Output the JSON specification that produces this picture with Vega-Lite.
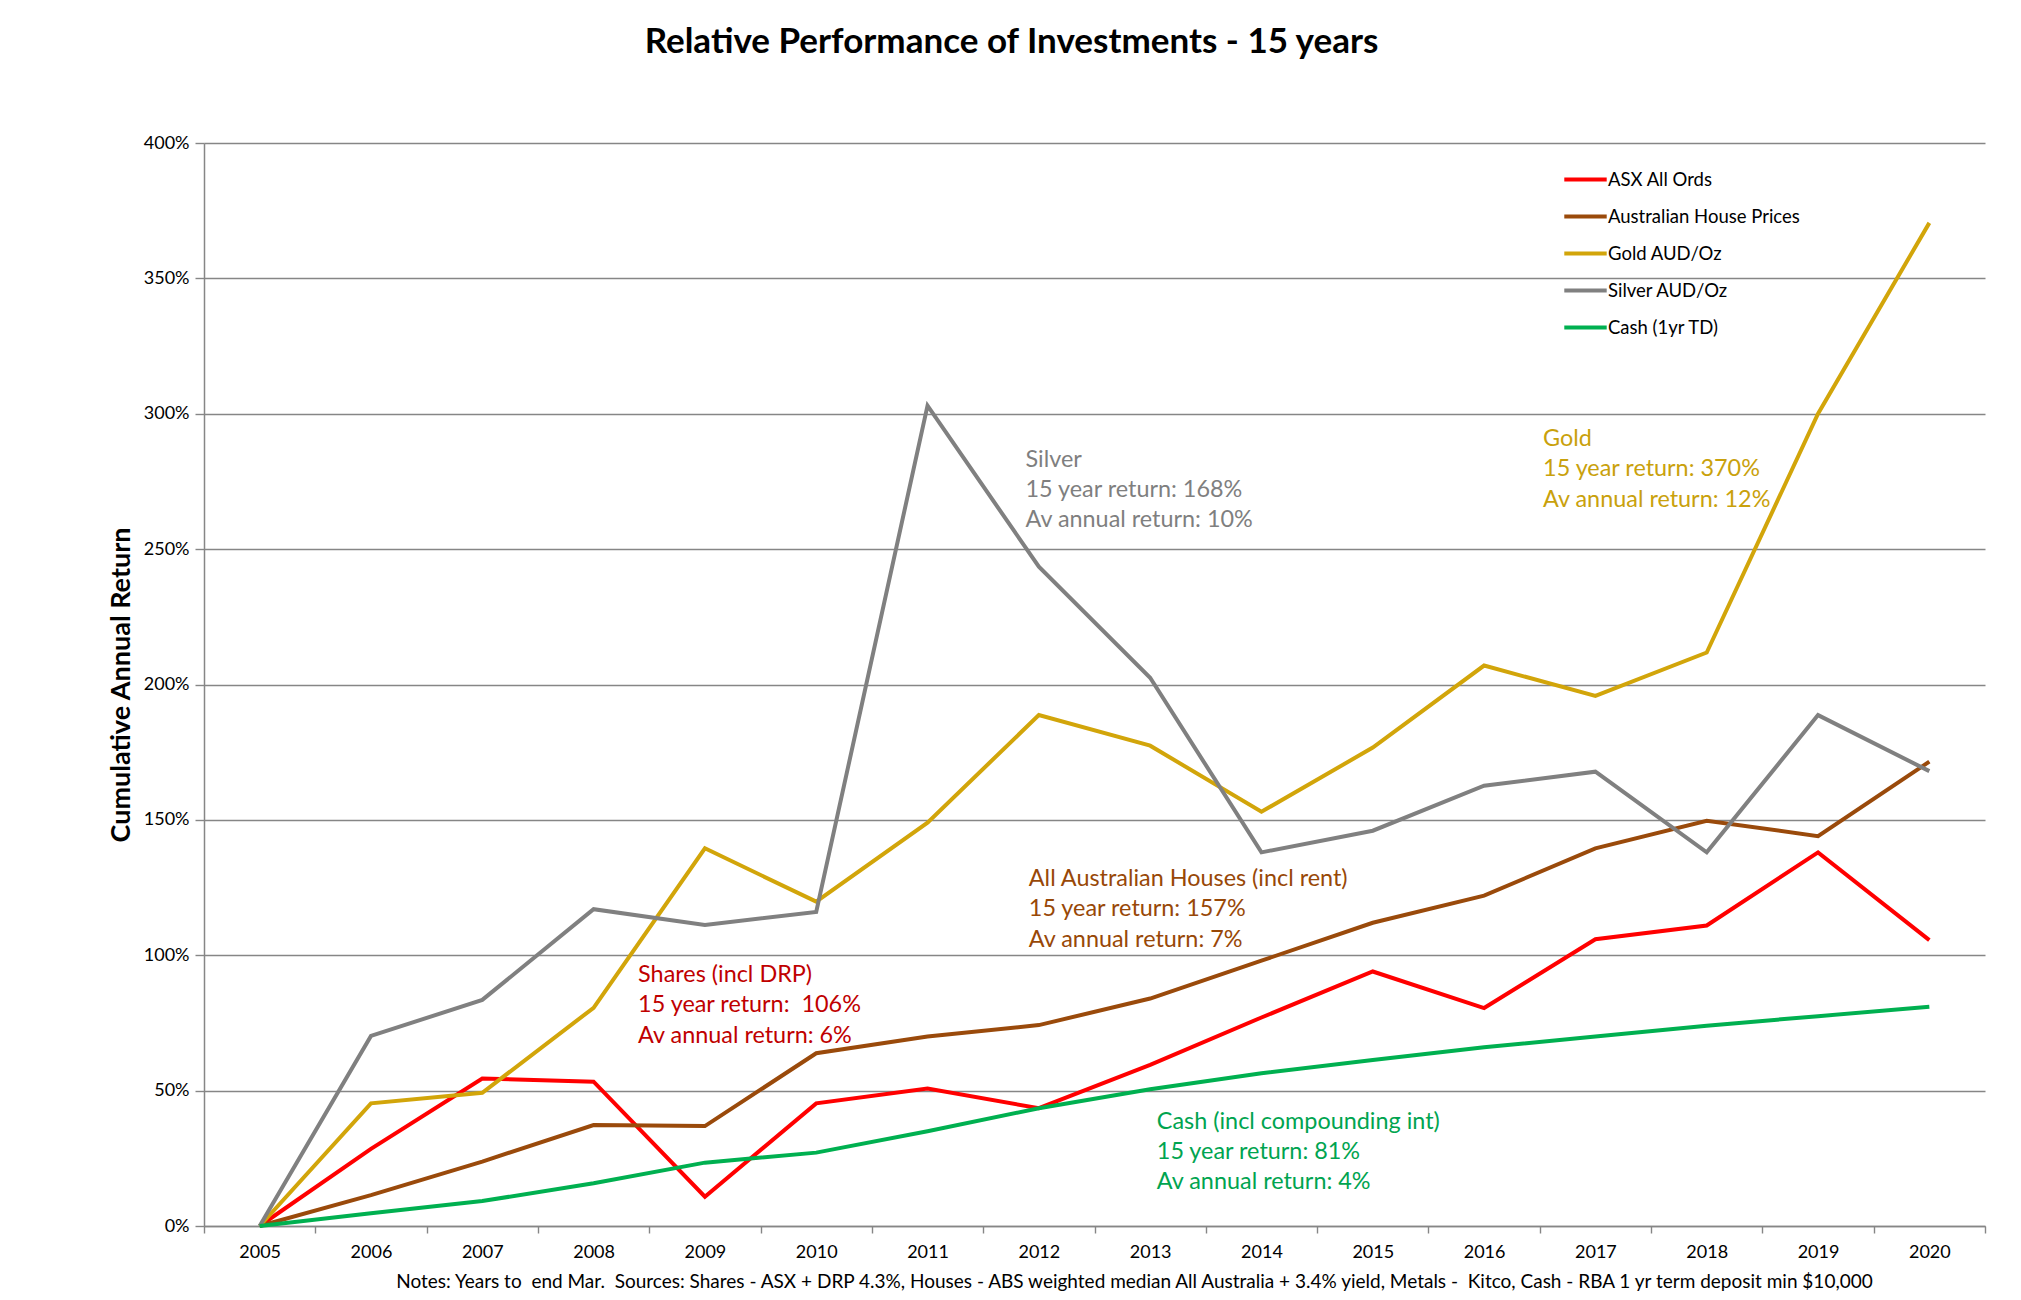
{
  "$schema": "https://vega.github.io/schema/vega-lite/v6.json",
  "description": "Relative performance of investments over 15 years, cumulative return by year",
  "autosize": "none",
  "width": 1781,
  "height": 1083,
  "padding": {"left": 204, "top": 143, "right": 36, "bottom": 74},
  "background": "white",
  "title": {
    "text": "Relative Performance of Investments - 15 years",
    "font": "Lato",
    "fontSize": 35,
    "fontWeight": "bold",
    "color": "#000000",
    "anchor": "middle",
    "dx": -83,
    "offset": 74
  },
  "datasets": {
    "returns": [
      {"year": 2005, "series": "ASX All Ords", "value": 0},
      {"year": 2006, "series": "ASX All Ords", "value": 28.5},
      {"year": 2007, "series": "ASX All Ords", "value": 54.5},
      {"year": 2008, "series": "ASX All Ords", "value": 53.3},
      {"year": 2009, "series": "ASX All Ords", "value": 10.8},
      {"year": 2010, "series": "ASX All Ords", "value": 45.3},
      {"year": 2011, "series": "ASX All Ords", "value": 50.8},
      {"year": 2012, "series": "ASX All Ords", "value": 43.5},
      {"year": 2013, "series": "ASX All Ords", "value": 59.5},
      {"year": 2014, "series": "ASX All Ords", "value": 77},
      {"year": 2015, "series": "ASX All Ords", "value": 94},
      {"year": 2016, "series": "ASX All Ords", "value": 80.5},
      {"year": 2017, "series": "ASX All Ords", "value": 105.9},
      {"year": 2018, "series": "ASX All Ords", "value": 111},
      {"year": 2019, "series": "ASX All Ords", "value": 138},
      {"year": 2020, "series": "ASX All Ords", "value": 105.6},
      {"year": 2005, "series": "Australian House Prices", "value": 0},
      {"year": 2006, "series": "Australian House Prices", "value": 11.4},
      {"year": 2007, "series": "Australian House Prices", "value": 23.8},
      {"year": 2008, "series": "Australian House Prices", "value": 37.3},
      {"year": 2009, "series": "Australian House Prices", "value": 36.9},
      {"year": 2010, "series": "Australian House Prices", "value": 63.8},
      {"year": 2011, "series": "Australian House Prices", "value": 70},
      {"year": 2012, "series": "Australian House Prices", "value": 74.2},
      {"year": 2013, "series": "Australian House Prices", "value": 84},
      {"year": 2014, "series": "Australian House Prices", "value": 98},
      {"year": 2015, "series": "Australian House Prices", "value": 112},
      {"year": 2016, "series": "Australian House Prices", "value": 122},
      {"year": 2017, "series": "Australian House Prices", "value": 139.5},
      {"year": 2018, "series": "Australian House Prices", "value": 149.7},
      {"year": 2019, "series": "Australian House Prices", "value": 144},
      {"year": 2020, "series": "Australian House Prices", "value": 171.5},
      {"year": 2005, "series": "Gold AUD/Oz", "value": 0},
      {"year": 2006, "series": "Gold AUD/Oz", "value": 45.3},
      {"year": 2007, "series": "Gold AUD/Oz", "value": 49.2},
      {"year": 2008, "series": "Gold AUD/Oz", "value": 80.6},
      {"year": 2009, "series": "Gold AUD/Oz", "value": 139.5},
      {"year": 2010, "series": "Gold AUD/Oz", "value": 119.8},
      {"year": 2011, "series": "Gold AUD/Oz", "value": 149},
      {"year": 2012, "series": "Gold AUD/Oz", "value": 188.7},
      {"year": 2013, "series": "Gold AUD/Oz", "value": 177.4},
      {"year": 2014, "series": "Gold AUD/Oz", "value": 153},
      {"year": 2015, "series": "Gold AUD/Oz", "value": 176.7},
      {"year": 2016, "series": "Gold AUD/Oz", "value": 207},
      {"year": 2017, "series": "Gold AUD/Oz", "value": 195.8},
      {"year": 2018, "series": "Gold AUD/Oz", "value": 211.8},
      {"year": 2019, "series": "Gold AUD/Oz", "value": 300},
      {"year": 2020, "series": "Gold AUD/Oz", "value": 370.5},
      {"year": 2005, "series": "Silver AUD/Oz", "value": 0},
      {"year": 2006, "series": "Silver AUD/Oz", "value": 70.2},
      {"year": 2007, "series": "Silver AUD/Oz", "value": 83.5},
      {"year": 2008, "series": "Silver AUD/Oz", "value": 117},
      {"year": 2009, "series": "Silver AUD/Oz", "value": 111.2},
      {"year": 2010, "series": "Silver AUD/Oz", "value": 116},
      {"year": 2011, "series": "Silver AUD/Oz", "value": 303},
      {"year": 2012, "series": "Silver AUD/Oz", "value": 243.5},
      {"year": 2013, "series": "Silver AUD/Oz", "value": 202.5},
      {"year": 2014, "series": "Silver AUD/Oz", "value": 138},
      {"year": 2015, "series": "Silver AUD/Oz", "value": 146},
      {"year": 2016, "series": "Silver AUD/Oz", "value": 162.6},
      {"year": 2017, "series": "Silver AUD/Oz", "value": 167.8},
      {"year": 2018, "series": "Silver AUD/Oz", "value": 138},
      {"year": 2019, "series": "Silver AUD/Oz", "value": 188.7},
      {"year": 2020, "series": "Silver AUD/Oz", "value": 168},
      {"year": 2005, "series": "Cash (1yr TD)", "value": 0},
      {"year": 2006, "series": "Cash (1yr TD)", "value": 4.7},
      {"year": 2007, "series": "Cash (1yr TD)", "value": 9.2},
      {"year": 2008, "series": "Cash (1yr TD)", "value": 15.8},
      {"year": 2009, "series": "Cash (1yr TD)", "value": 23.4},
      {"year": 2010, "series": "Cash (1yr TD)", "value": 27.1},
      {"year": 2011, "series": "Cash (1yr TD)", "value": 35},
      {"year": 2012, "series": "Cash (1yr TD)", "value": 43.5},
      {"year": 2013, "series": "Cash (1yr TD)", "value": 50.5},
      {"year": 2014, "series": "Cash (1yr TD)", "value": 56.4},
      {"year": 2015, "series": "Cash (1yr TD)", "value": 61.3},
      {"year": 2016, "series": "Cash (1yr TD)", "value": 66},
      {"year": 2017, "series": "Cash (1yr TD)", "value": 70},
      {"year": 2018, "series": "Cash (1yr TD)", "value": 74},
      {"year": 2019, "series": "Cash (1yr TD)", "value": 77.5},
      {"year": 2020, "series": "Cash (1yr TD)", "value": 81}
    ],
    "notes": [
      {"note": "Silver", "line": "Silver", "year": 2011.88, "value": 282.9},
      {"note": "Silver", "line": "15 year return: 168%", "year": 2011.88, "value": 271.8},
      {"note": "Silver", "line": "Av annual return: 10%", "year": 2011.88, "value": 260.8},
      {"note": "Gold", "line": "Gold", "year": 2016.53, "value": 290.7},
      {"note": "Gold", "line": "15 year return: 370%", "year": 2016.53, "value": 279.6},
      {"note": "Gold", "line": "Av annual return: 12%", "year": 2016.53, "value": 268.2},
      {"note": "Houses", "line": "All Australian Houses (incl rent)", "year": 2011.91, "value": 128.2},
      {"note": "Houses", "line": "15 year return: 157%", "year": 2011.91, "value": 117.2},
      {"note": "Houses", "line": "Av annual return: 7%", "year": 2011.91, "value": 105.7},
      {"note": "Shares", "line": "Shares (incl DRP)", "year": 2008.4, "value": 92.7},
      {"note": "Shares", "line": "15 year return:\u00a0 106%", "year": 2008.4, "value": 81.6},
      {"note": "Shares", "line": "Av annual return: 6%", "year": 2008.4, "value": 70.3},
      {"note": "Cash", "line": "Cash (incl compounding int)", "year": 2013.06, "value": 38.5},
      {"note": "Cash", "line": "15 year return: 81%", "year": 2013.06, "value": 27.4},
      {"note": "Cash", "line": "Av annual return: 4%", "year": 2013.06, "value": 16.1}
    ]
  },
  "layer": [
    {
      "data": {"name": "returns"},
      "mark": {"type": "line", "strokeWidth": 4, "strokeJoin": "miter"},
      "encoding": {
        "x": {
          "field": "year",
          "type": "quantitative",
          "scale": {"domain": [2004.5, 2020.5], "nice": false, "zero": false},
          "axis": {
            "orient": "bottom",
            "values": [2005, 2006, 2007, 2008, 2009, 2010, 2011, 2012, 2013, 2014, 2015, 2016, 2017, 2018, 2019, 2020],
            "format": "d",
            "grid": false,
            "ticks": false,
            "domainColor": "#868686",
            "domainWidth": 1.5,
            "labelFont": "Lato",
            "labelFontSize": 18,
            "labelColor": "#000000",
            "labelPadding": 17,
            "title": "Notes: Years to\u00a0 end Mar.\u00a0 Sources: Shares - ASX + DRP 4.3%, Houses - ABS weighted median All Australia + 3.4% yield, Metals -\u00a0 Kitco, Cash - RBA 1 yr term deposit min $10,000",
            "titleFont": "Lato",
            "titleFontSize": 19,
            "titleFontWeight": "normal",
            "titleColor": "#000000",
            "titlePadding": 11,
            "titleX": 930
          }
        },
        "y": {
          "field": "value",
          "type": "quantitative",
          "scale": {"domain": [0, 400], "nice": false},
          "axis": {
            "values": [0, 50, 100, 150, 200, 250, 300, 350, 400],
            "labelExpr": "datum.value + '%'",
            "grid": true,
            "gridColor": "#868686",
            "gridWidth": 1.4,
            "domainColor": "#868686",
            "domainWidth": 1.5,
            "tickColor": "#868686",
            "tickWidth": 1.4,
            "tickSize": 9,
            "labelFont": "Lato",
            "labelFontSize": 18,
            "labelColor": "#000000",
            "labelPadding": 6,
            "title": "Cumulative Annual Return",
            "titleFont": "Lato",
            "titleFontSize": 27,
            "titleFontWeight": "bold",
            "titleColor": "#000000",
            "titlePadding": 8
          }
        },
        "color": {
          "field": "series",
          "type": "nominal",
          "scale": {
            "domain": ["ASX All Ords", "Australian House Prices", "Gold AUD/Oz", "Silver AUD/Oz", "Cash (1yr TD)"],
            "range": ["#FF0000", "#9A4A0B", "#D2A50A", "#808080", "#00B050"]
          },
          "legend": {
            "orient": "none",
            "legendX": 1358,
            "legendY": 13,
            "title": null,
            "symbolType": "stroke",
            "symbolSize": 1800,
            "symbolStrokeWidth": 4,
            "labelFont": "Lato",
            "labelFontSize": 18.5,
            "labelColor": "#000000",
            "labelLimit": 0,
            "labelOffset": -1,
            "rowPadding": 4
          }
        }
      }
    },
    {
      "data": {"name": "notes"},
      "mark": {"type": "text", "align": "left", "baseline": "middle", "font": "Lato", "fontSize": 23.4},
      "encoding": {
        "x": {
          "field": "year",
          "type": "quantitative",
          "scale": {"domain": [2004.5, 2020.5], "nice": false, "zero": false},
          "axis": {
            "orient": "bottom",
            "values": [2004.5, 2005.5, 2006.5, 2007.5, 2008.5, 2009.5, 2010.5, 2011.5, 2012.5, 2013.5, 2014.5, 2015.5, 2016.5, 2017.5, 2018.5, 2019.5, 2020.5],
            "labels": false,
            "domain": false,
            "grid": false,
            "ticks": true,
            "tickColor": "#868686",
            "tickWidth": 1.4,
            "tickSize": 7,
            "title": null
          }
        },
        "y": {"field": "value", "type": "quantitative"},
        "text": {"field": "line", "type": "nominal"},
        "color": {
          "field": "note",
          "type": "nominal",
          "scale": {
            "domain": ["Shares", "Houses", "Gold", "Silver", "Cash"],
            "range": ["#C00000", "#984807", "#C9A10C", "#7F7F7F", "#00A450"]
          },
          "legend": null
        }
      }
    }
  ],
  "resolve": {
    "scale": {"color": "independent"},
    "axis": {"x": "independent"}
  },
  "config": {
    "view": {"stroke": null},
    "font": "Lato"
  }
}
